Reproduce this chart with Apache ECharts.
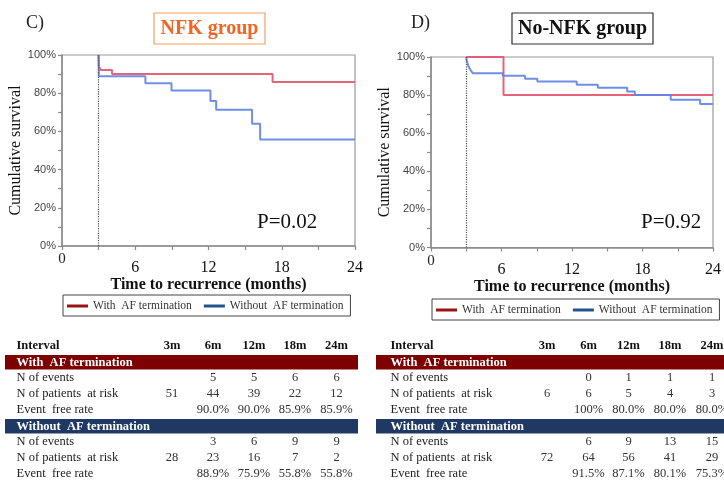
<!DOCTYPE html>
<html>
<head>
<meta charset="utf-8">
<title>Kaplan-Meier: AF termination</title>
<script src="https://cdn.jsdelivr.net/npm/echarts@6/dist/echarts.min.js"></script>
<style>
  html, body { margin: 0; padding: 0; background: #fff; }
  #chart { width: 724px; height: 483px; }
</style>
</head>
<body>
<div id="chart"></div>
<script>
// ---- Kaplan-Meier step data (time in months, cumulative survival in %) ----
const landmarkMonth = 3;

const nfkWithTimes = [3, 3.02, 3.17, 4.1, 17.25, 24];
const nfkWithSurv = [100, 94.1, 92.2, 90.0, 85.9, 85.9];

const nfkWithoutTimes = [3, 3.02, 6.83, 8.97, 12.16, 12.63, 15.57, 16.23, 24];
const nfkWithoutSurv = [100, 88.9, 85.2, 81.4, 75.9, 71.3, 64.0, 55.8, 55.8];

const noNfkWithTimes = [3, 6.17, 24];
const noNfkWithSurv = [100, 80.0, 80.0];

const noNfkWithoutTimes = [3, 3.03, 3.08, 3.15, 3.25, 3.38, 3.55, 6.12, 8.0, 9.05, 12.4, 14.2, 16.7, 17.35, 20.4, 22.9, 24];
const noNfkWithoutSurv = [100, 98.6, 97.2, 95.8, 94.4, 93.0, 91.5, 90.1, 88.6, 87.1, 85.4, 83.8, 81.9, 80.1, 77.6, 75.3, 75.3];

const panelLetters = ['C)', 'D)'];
const panelTitles = ['NFK group', 'No-NFK group'];
const pValues = ['P=0.02', 'P=0.92'];
const seriesNames = ['With AF termination', 'Without AF termination'];

// ---- risk tables ----
const intervalLabels = ['3m', '6m', '12m', '18m', '24m'];
const rowLabels = ['N of events', 'N of patients  at risk', 'Event  free rate'];

const nfkWithEvents = ['', '5', '5', '6', '6'];
const nfkWithAtRisk = ['51', '44', '39', '22', '12'];
const nfkWithFreeRate = ['', '90.0%', '90.0%', '85.9%', '85.9%'];
const nfkWithoutEvents = ['', '3', '6', '9', '9'];
const nfkWithoutAtRisk = ['28', '23', '16', '7', '2'];
const nfkWithoutFreeRate = ['', '88.9%', '75.9%', '55.8%', '55.8%'];

const noNfkWithEvents = ['', '0', '1', '1', '1'];
const noNfkWithAtRisk = ['6', '6', '5', '4', '3'];
const noNfkWithFreeRate = ['', '100%', '80.0%', '80.0%', '80.0%'];
const noNfkWithoutEvents = ['', '6', '9', '13', '15'];
const noNfkWithoutAtRisk = ['72', '64', '56', '41', '29'];
const noNfkWithoutFreeRate = ['', '91.5%', '87.1%', '80.1%', '75.3%'];

// ---- styling ----
const SERIF = '"Liberation Serif", "Times New Roman", serif';
const SANS = '"Liberation Sans", Arial, sans-serif';
const RED_CURVE = 'rgb(226,88,110)';
const BLUE_CURVE = 'rgb(98,132,230)';
const RED_KEY = '#9a1414';
const BLUE_KEY = '#23508e';
const RED_BAND = '#7f0000';
const BLUE_BAND = '#1f3864';
const AXIS_GREY = '#8a8a8a';

const zip = (xs, ys) => xs.map((x, i) => [x, ys[i]]);

const grids = [
  { left: 62, top: 55, width: 293, height: 191 },
  { left: 431, top: 57, width: 294, height: 190.5 }
];

function xAxisFor(i) {
  return {
    gridIndex: i, type: 'value', min: 0, max: 24, interval: 3,
    axisLine: { lineStyle: { color: AXIS_GREY, width: 1.5 } },
    axisTick: { length: 4, lineStyle: { color: AXIS_GREY, width: 1.2 } },
    splitLine: { show: false },
    axisLabel: {
      margin: 6,
      formatter: v => v === 0 ? '{z|0}' : (v % 6 === 0 ? '{n|' + v + '}' : ''),
      rich: {
        z: { fontFamily: SERIF, fontSize: 15, color: '#222' },
        n: { fontFamily: SERIF, fontSize: 16, color: '#111', padding: [8, 0, 0, 0] }
      }
    },
    name: 'Time to recurrence (months)', nameLocation: 'middle', nameGap: 26,
    nameTextStyle: { fontFamily: SERIF, fontWeight: 'bold', fontSize: 16, color: '#111' }
  };
}

function yAxisFor(i) {
  return {
    gridIndex: i, type: 'value', min: 0, max: 100, interval: 10,
    axisLine: { show: true, lineStyle: { color: AXIS_GREY, width: 1.5 } },
    axisTick: { show: true, length: 4, lineStyle: { color: AXIS_GREY, width: 1.2 } },
    splitLine: { show: false },
    axisLabel: {
      margin: 6, fontFamily: SANS, fontSize: 11, color: '#444',
      formatter: v => v % 20 === 0 ? v + '%' : ''
    },
    name: 'Cumulative survival', nameLocation: 'middle', nameGap: 37,
    nameTextStyle: { fontFamily: SERIF, fontSize: 16, color: '#111' }
  };
}

function kmSeries(name, data, color, idx, withLandmark) {
  const s = {
    name, type: 'line', step: 'end', data, xAxisIndex: idx, yAxisIndex: idx,
    showSymbol: false, symbol: 'none', silent: true,
    lineStyle: { color, width: 2, opacity: 0.92 }, itemStyle: { color }
  };
  if (withLandmark) {
    s.markLine = {
      silent: true, symbol: ['none', 'none'], label: { show: false },
      lineStyle: { type: 'dotted', color: '#555', width: 1.2, opacity: 1 },
      data: [{ xAxis: landmarkMonth }]
    };
  }
  return s;
}

function legendFor(left, top) {
  return {
    left, top, orient: 'horizontal',
    borderColor: '#444', borderWidth: 1, padding: [5, 7, 4, 4],
    itemGap: 12, itemWidth: 21, itemHeight: 3, icon: 'rect',
    selectedMode: false,
    formatter: n => n.replace(' AF', '  AF'),
    textStyle: { fontFamily: SERIF, fontSize: 11.5, color: '#333' },
    data: [
      { name: seriesNames[0], itemStyle: { color: RED_KEY } },
      { name: seriesNames[1], itemStyle: { color: BLUE_KEY } }
    ]
  };
}

// ---- graphic: panel letters, titled boxes, p-values and the risk tables ----
const graphics = [];
function text(x, y, str, font, fill, align, vAlign) {
  graphics.push({
    type: 'text', x, y, silent: true,
    style: { text: str, font, fill: fill || '#111', textAlign: align || 'left', textVerticalAlign: vAlign || 'middle' }
  });
}
function rect(x, y, w, h, fill, stroke) {
  graphics.push({
    type: 'rect', silent: true, shape: { x, y, width: w, height: h },
    style: { fill: fill || 'none', stroke: stroke || 'none', lineWidth: 1.2 }
  });
}

// Panel headers
text(26, 23, panelLetters[0], '18px ' + SERIF, '#222');
text(411, 23, panelLetters[1], '18px ' + SERIF, '#222');
rect(154, 13, 111, 31, '#fff', '#f4a060');
text(209.5, 29, panelTitles[0], 'bold 20px ' + SERIF, '#f26522', 'center');
rect(512, 13, 141, 31, '#fff', '#333');
text(582.5, 29, panelTitles[1], 'bold 20px ' + SERIF, '#111', 'center');
text(257, 222, pValues[0], '21px ' + SERIF, '#111');
text(641, 222, pValues[1], '21px ' + SERIF, '#111');

function riskTable(lay, withRows, withoutRows) {
  const rowFont = '12.5px ' + SERIF;
  const numFont = '12.5px ' + SERIF;
  const headFont = 'bold 12.5px ' + SERIF;
  text(lay.labelX, 345.5, 'Interval', headFont, '#111');
  intervalLabels.forEach((lab, c) => text(lay.cols[c], 345.5, lab, headFont, '#111', 'center'));

  const blocks = [
    { title: 'With  AF termination', fill: RED_BAND, y: 355, rows: withRows, rowY: [377.5, 393.5, 409.5] },
    { title: 'Without  AF termination', fill: BLUE_BAND, y: 419, rows: withoutRows, rowY: [442, 458, 473.5] }
  ];
  blocks.forEach(b => {
    rect(lay.bandX, b.y, lay.bandW, 14.5, b.fill);
    text(lay.labelX, b.y + 7.3, b.title, headFont, '#fff');
    rowLabels.forEach((rl, r) => {
      text(lay.labelX, b.rowY[r], rl, rowFont, '#222');
      b.rows[r].forEach((v, c) => { if (v !== '') text(lay.cols[c], b.rowY[r], v, numFont, '#333', 'center'); });
    });
  });
}

riskTable({ bandX: 5, bandW: 353, labelX: 16.5, cols: [172, 213, 254, 295, 336.5] },
  [nfkWithEvents, nfkWithAtRisk, nfkWithFreeRate],
  [nfkWithoutEvents, nfkWithoutAtRisk, nfkWithoutFreeRate]);
riskTable({ bandX: 376, bandW: 350, labelX: 390.5, cols: [547, 588.5, 628.5, 670, 712] },
  [noNfkWithEvents, noNfkWithAtRisk, noNfkWithFreeRate],
  [noNfkWithoutEvents, noNfkWithoutAtRisk, noNfkWithoutFreeRate]);

const option = {
  animation: false,
  backgroundColor: '#fff',
  grid: grids.map(g => Object.assign({ show: true, borderColor: '#9a9a9a', borderWidth: 1.2, backgroundColor: 'transparent' }, g)),
  xAxis: [xAxisFor(0), xAxisFor(1)],
  yAxis: [yAxisFor(0), yAxisFor(1)],
  legend: [legendFor(63, 295), legendFor(432, 299)],
  series: [
    kmSeries(seriesNames[0], zip(nfkWithTimes, nfkWithSurv), RED_CURVE, 0, true),
    kmSeries(seriesNames[1], zip(nfkWithoutTimes, nfkWithoutSurv), BLUE_CURVE, 0, false),
    kmSeries(seriesNames[0], zip(noNfkWithTimes, noNfkWithSurv), RED_CURVE, 1, true),
    kmSeries(seriesNames[1], zip(noNfkWithoutTimes, noNfkWithoutSurv), BLUE_CURVE, 1, false)
  ],
  graphic: graphics
};

const chart = echarts.init(document.getElementById('chart'), null, { renderer: 'canvas' });
chart.setOption(option);
</script>
</body>
</html>
